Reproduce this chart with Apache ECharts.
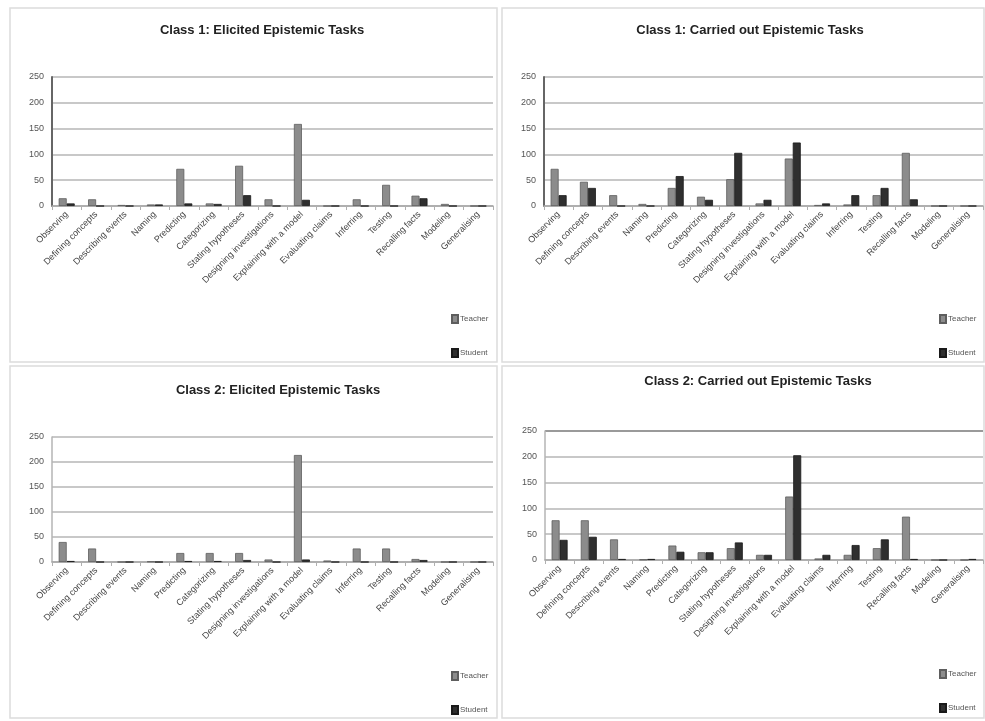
<!DOCTYPE html>
<html>
<head>
<meta charset="utf-8">
<script src="https://cdn.jsdelivr.net/npm/echarts@6/dist/echarts.min.js"></script>
<style>
  html, body { margin: 0; padding: 0; background: #ffffff; }
  #chart { width: 985px; height: 721px; }
</style>
</head>
<body>
<div id="chart"></div>
<script>
// Epistemic task categories (shared x axis of all four panels)
const categories = [
  'Observing', 'Defining concepts', 'Describing events', 'Naming',
  'Predicting', 'Categorizing', 'Stating hypotheses', 'Designing investigations',
  'Explaining with a model', 'Evaluating claims', 'Inferring', 'Testing',
  'Recalling facts', 'Modeling', 'Generalising'
];

// Class 1: elicited tasks
const c1ElicitedTeacher = [15, 13, 2, 3, 72, 5, 78, 13, 159, 0, 13, 41, 20, 4, 0];
const c1ElicitedStudent = [5, 0, 0, 3, 5, 4, 21, 0, 12, 0, 0, 0, 15, 0, 0];
// Class 1: carried out tasks
const c1CarriedTeacher = [72, 47, 21, 4, 35, 18, 52, 5, 92, 2, 3, 21, 103, 0, 0];
const c1CarriedStudent = [21, 35, 0, 0, 58, 12, 103, 12, 123, 5, 21, 35, 13, 0, 0];
// Class 2: elicited tasks
const c2ElicitedTeacher = [40, 27, 0, 1, 18, 18, 18, 5, 214, 3, 27, 27, 6, 0, 0];
const c2ElicitedStudent = [2, 0, 0, 0, 2, 2, 4, 0, 5, 0, 0, 0, 4, 0, 0];
// Class 2: carried out tasks
const c2CarriedTeacher = [77, 77, 40, 1, 28, 15, 23, 10, 123, 3, 10, 23, 84, 0, 0];
const c2CarriedStudent = [39, 45, 2, 2, 16, 15, 34, 10, 203, 10, 29, 40, 2, 0, 2];

const panelTitles = [
  'Class 1: Elicited Epistemic Tasks',
  'Class 1: Carried out Epistemic Tasks',
  'Class 2: Elicited Epistemic Tasks',
  'Class 2: Carried out Epistemic Tasks'
];
const seriesNames = ['Teacher', 'Student'];
const yTicks = { min: 0, max: 250, interval: 50 };

const FONT = "'Liberation Sans', Arial, sans-serif";
const teacherColor = '#8c8c8c';
const studentColor = '#2f2f2f';

const panelData = [
  [c1ElicitedTeacher, c1ElicitedStudent],
  [c1CarriedTeacher, c1CarriedStudent],
  [c2ElicitedTeacher, c2ElicitedStudent],
  [c2CarriedTeacher, c2CarriedStudent]
];

// layout of each panel: plot box, title centre, legend corner, frame
const panels = [
  { grid: { left: 52, width: 441, top: 77, height: 129 }, title: [262, 24], legend: [451, 314], frame: [10, 8, 487, 354], axisDark: true },
  { grid: { left: 544, width: 439, top: 77, height: 129 }, title: [750, 24], legend: [939, 314], frame: [502, 8, 482, 354], axisDark: true },
  { grid: { left: 52, width: 441, top: 437, height: 125 }, title: [278, 384], legend: [451, 671], frame: [10, 366, 487, 352], axisDark: false },
  { grid: { left: 545, width: 438, top: 431, height: 129 }, title: [758, 375], legend: [939, 669], frame: [502, 366, 482, 352], axisDark: false, topDark: true }
];

const option = {
  backgroundColor: '#ffffff',
  animation: false,
  textStyle: { fontFamily: FONT },
  title: panels.map((p, i) => ({
    text: panelTitles[i],
    left: p.title[0],
    top: p.title[1],
    textAlign: 'center',
    padding: 0,
    textStyle: { fontFamily: FONT, fontSize: 13, fontWeight: 'bold', color: '#222' }
  })),
  legend: panels.map((p, i) => ({
    data: seriesNames,
    orient: 'vertical',
    left: p.legend[0],
    top: p.legend[1],
    padding: 0,
    height: 60,
    itemWidth: 6,
    itemHeight: 8,
    itemGap: 24,
    icon: 'rect',
    textStyle: { fontFamily: FONT, fontSize: 8, color: '#555', padding: [0, 0, 0, -3] }
  })),
  grid: panels.map(p => Object.assign({ containLabel: false }, p.grid)),
  xAxis: panels.map((p, i) => ({
    type: 'category',
    gridIndex: i,
    data: categories,
    axisLine: { lineStyle: { color: '#a6a6a6', width: 1.5 } },
    axisTick: { show: true, length: 4, lineStyle: { color: '#b0b0b0' } },
    axisLabel: {
      interval: 0,
      rotate: 45,
      margin: 7,
      fontSize: 9,
      color: '#444',
      fontFamily: FONT
    }
  })),
  yAxis: panels.map((p, i) => ({
    type: 'value',
    gridIndex: i,
    min: yTicks.min,
    max: yTicks.max,
    interval: yTicks.interval,
    axisLine: { show: true, lineStyle: { color: p.axisDark ? '#666' : '#b5b5b5', width: p.axisDark ? 2 : 1.5 } },
    axisTick: { show: false },
    axisLabel: { fontSize: 9, color: '#555', margin: 8, fontFamily: FONT },
    splitLine: {
      lineStyle: {
        color: p.topDark ? ['#c8c8c8', '#c8c8c8', '#c8c8c8', '#c8c8c8', '#c8c8c8', '#9a9a9a'] : '#c8c8c8',
        width: 2
      }
    }
  })),
  series: [],
  graphic: panels.map(p => ({
    type: 'rect',
    shape: { x: p.frame[0], y: p.frame[1], width: p.frame[2], height: p.frame[3] },
    style: { fill: 'none', stroke: '#dcdcdc', lineWidth: 1.5 },
    silent: true,
    z: -1
  }))
};

panelData.forEach((pair, i) => {
  option.series.push({
    name: seriesNames[0],
    type: 'bar',
    xAxisIndex: i,
    yAxisIndex: i,
    data: pair[0],
    barWidth: 8,
    barGap: '0%',
    itemStyle: { color: teacherColor, borderColor: '#5e5e5e', borderWidth: 0.8 }
  });
  option.series.push({
    name: seriesNames[1],
    type: 'bar',
    xAxisIndex: i,
    yAxisIndex: i,
    data: pair[1],
    barWidth: 8,
    barGap: '0%',
    itemStyle: { color: studentColor, borderColor: '#1a1a1a', borderWidth: 0.8 }
  });
});

const chart = echarts.init(document.getElementById('chart'), null, { renderer: 'canvas' });
chart.setOption(option);
</script>
</body>
</html>
